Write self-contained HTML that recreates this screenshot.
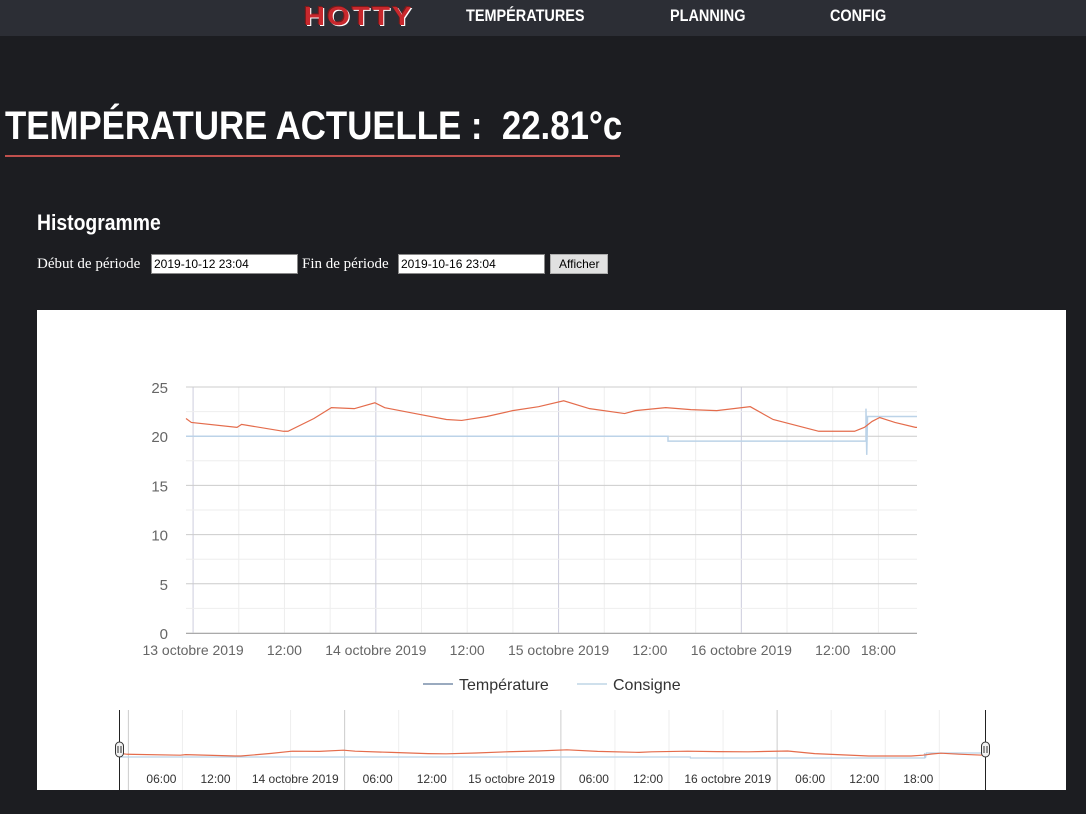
<!DOCTYPE html>
<html><head><meta charset="utf-8">
<style>
html,body{margin:0;padding:0;width:1086px;height:814px;overflow:hidden;background:#1c1d21;font-family:"Liberation Sans",sans-serif;}
.nav{position:absolute;left:0;top:0;width:1086px;height:36px;background:#2c2e35;}
.nav span{position:absolute;top:6px;color:#fff;font-weight:bold;font-size:17px;transform:scaleX(0.85);transform-origin:left;}
.logo{color:#c8282d!important;font-size:26px!important;top:1px!important;text-shadow:1px 1px 0 #fff,-1px -1px 0 #7a1a1a;letter-spacing:2px;transform:scaleX(1.12)!important}
h1{position:absolute;left:5px;top:104px;margin:0;color:#fff;font-size:40px;font-weight:bold;white-space:nowrap;transform:scaleX(0.87);transform-origin:left;}
.ul{position:absolute;left:5px;top:155px;width:615px;height:2px;background:#c0504d;}
h2{position:absolute;left:37px;top:210px;margin:0;color:#fff;font-size:22px;font-weight:bold;transform:scaleX(0.88);transform-origin:left;}
.form{position:absolute;top:254px;left:37px;color:#fff;font-family:"Liberation Serif",serif;font-size:15px;}
.form label,.form input,.form button{position:absolute;top:0;white-space:nowrap}
.form input{border:1px solid #888;padding:0 2px;font-family:"Liberation Sans",sans-serif;font-size:12px;width:147px;box-sizing:border-box;height:20px;}
.form button{height:20px;font-size:12px;background:#e1e1e1;border:1px solid #adadad;padding:0 8px;font-family:"Liberation Sans",sans-serif;}
.panel{position:absolute;left:37px;top:310px;width:1029px;height:480px;background:#fff;}
</style></head><body>
<div class="nav">
<span class="logo" style="left:304px">HOTTY</span>
<span style="left:466px">TEMPÉRATURES</span>
<span style="left:670px">PLANNING</span>
<span style="left:830px">CONFIG</span>
</div>
<h1>TEMPÉRATURE ACTUELLE :&nbsp; 22.81°c</h1>
<div class="ul"></div>
<h2>Histogramme</h2>
<div class="form">
<label style="left:0;top:2px">Début de période</label>
<input style="left:114px" value="2019-10-12 23:04">
<label style="left:265px;top:2px">Fin de période</label>
<input style="left:361px" value="2019-10-16 23:04">
<button style="left:513px">Afficher</button>
</div>
<div class="panel"></div>
<svg id="chart" width="1086" height="814" style="position:absolute;left:0;top:0"></svg>
<script>
const tempHours=[0,0.7,6.7,7.3,12.8,13.4,16.8,19.1,22.1,24.8,26.1,30.1,34.2,36.2,39.5,42.9,46.3,49.6,53.0,57.6,59.0,63.0,66.3,69.7,74.1,77.1,83.1,87.8,89.1,90.1,91.1,93.1,95.8,96];
const tempValues=[21.8,21.4,20.9,21.2,20.5,20.5,21.8,22.9,22.8,23.4,22.9,22.3,21.7,21.6,22.0,22.6,23.0,23.6,22.8,22.3,22.6,22.9,22.7,22.6,23.0,21.7,20.5,20.5,20.9,21.5,21.9,21.4,20.9,20.9];
const consHours=[0,63.3,63.3,89.3,89.3,89.4,89.5,89.6,96];
const consValues=[20,20,19.5,19.5,22.8,18.1,22,22,22];
const yTicks=[0,5,10,15,20,25];
const xTickHours=[0.93,12.93,24.93,36.93,48.93,60.93,72.93,84.93,90.93];
const xTickLabels=["13 octobre 2019","12:00","14 octobre 2019","12:00","15 octobre 2019","12:00","16 octobre 2019","12:00","18:00"];
const navTickHours=[6.93,12.93,24.93,30.93,36.93,48.93,54.93,60.93,72.93,78.93,84.93,90.93];
const navTickLabels=["06:00","12:00","14 octobre 2019","06:00","12:00","15 octobre 2019","06:00","12:00","16 octobre 2019","06:00","12:00","18:00"];
const NS="http://www.w3.org/2000/svg";
const svg=document.getElementById('chart');
const X0=186,X1=917,Y0=633,Y1=387;
const x=h=>X0+h/96*(X1-X0);
const y=v=>Y0-v/25*(Y0-Y1);
const nx=h=>120+h/96*(985-120);
const ny=v=>757-(v-20)*2;
function el(t,a,txt){const e=document.createElementNS(NS,t);for(const k in a)e.setAttribute(k,a[k]);if(txt!==undefined)e.textContent=txt;svg.appendChild(e);return e;}
for(let h=0.93;h<96;h+=6){const g=el('line',{x1:x(h),x2:x(h),y1:Y1,y2:Y0,stroke:(Math.round((h-0.93)/6)%4==0)?'#ccd':'#eee','stroke-width':1});

}
for(let v=0;v<=25;v+=2.5){const g=el('line',{x1:X0,x2:X1,y1:y(v),y2:y(v),stroke:(v%5==0)?'#ccc':'#eee','stroke-width':1});

}
yTicks.forEach(v=>{const t=el('text',{x:168,y:y(v)+6,'text-anchor':'end','font-size':15,fill:'#666'},String(v));

});
xTickHours.forEach((h,i)=>{const t=el('text',{x:x(h),y:655,'text-anchor':'middle','font-size':14,fill:'#666'},xTickLabels[i]);

});
let ax=el('line',{x1:X0,x2:X1,y1:Y0+0.5,y2:Y0+0.5,stroke:'#aaa'});


const cons=el('polyline',{points:consHours.map((h,i)=>x(h)+','+y(consValues[i])).join(' '),fill:'none',stroke:'#bcd3e8','stroke-width':1.5});


const temp=el('polyline',{points:tempHours.map((h,i)=>x(h)+','+y(tempValues[i])).join(' '),fill:'none',stroke:'#e46c4c','stroke-width':1.2});


let l1=el('line',{x1:423,x2:453,y1:684,y2:684,stroke:'#9aaabf','stroke-width':2});


let t1=el('text',{x:459,y:690,'font-size':16,fill:'#333'},'Température');


let l2=el('line',{x1:577,x2:607,y1:684,y2:684,stroke:'#cfe0ec','stroke-width':2});


let t2=el('text',{x:613,y:690,'font-size':16,fill:'#333'},'Consigne');


for(let h=0.93;h<96;h+=6){const g=el('line',{x1:nx(h),x2:nx(h),y1:710,y2:790,stroke:(Math.round((h-0.93)/6)%4==0)?'#ccc':'#eee'});

}
navTickHours.forEach((h,i)=>{const t=el('text',{x:nx(h)-6,y:783,'text-anchor':'end','font-size':12,fill:'#333'},navTickLabels[i]);

});
const nc=el('polyline',{points:consHours.map((h,i)=>nx(h)+','+ny(Math.max(19.5,Math.min(22,consValues[i])))).join(' '),fill:'none',stroke:'#bcd3e8','stroke-width':1.2});


const nt=el('polyline',{points:tempHours.map((h,i)=>nx(h)+','+ny(tempValues[i])).join(' '),fill:'none',stroke:'#e46c4c','stroke-width':1.2});


[119.5,985.5].forEach((hx,i)=>{
const ln=el('line',{x1:hx,x2:hx,y1:710,y2:790,stroke:'#222','stroke-width':1});


const r=el('rect',{x:hx-4,y:742,width:8,height:15,rx:4,fill:'#f2f2f2',stroke:'#333'});


el('line',{x1:hx-1.5,x2:hx-1.5,y1:746,y2:753,stroke:'#333'});
el('line',{x1:hx+1.5,x2:hx+1.5,y1:746,y2:753,stroke:'#333'});
});
</script>
</body></html>
